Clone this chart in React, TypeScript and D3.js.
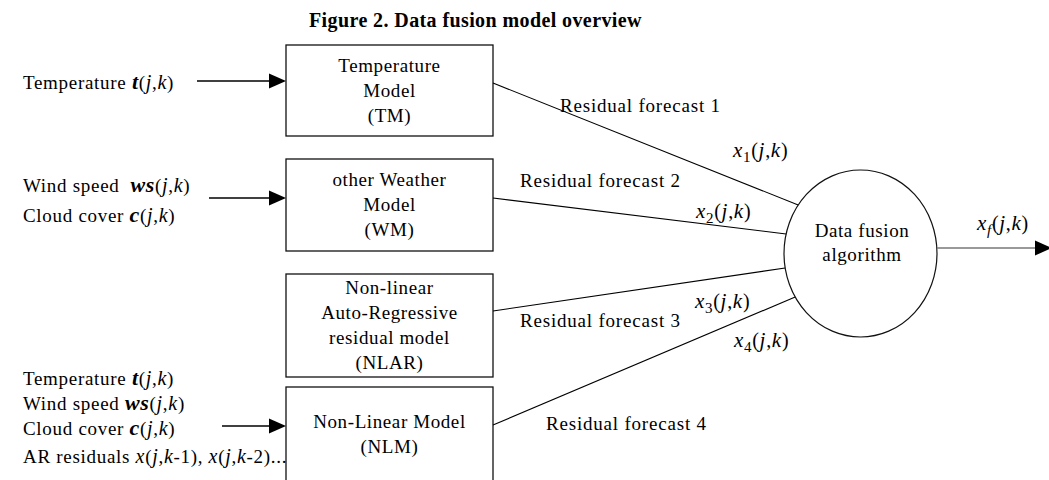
import React from "react";
import * as d3 from "d3";

// ---------- content ----------
const title = "Figure 2. Data fusion model overview";
const modelLines: string[][] = [
  ["Temperature", "Model", "(TM)"],
  ["other Weather", "Model", "(WM)"],
  ["Non-linear", "Auto-Regressive", "residual model", "(NLAR)"],
  ["Non-Linear Model", "(NLM)"],
];
const inputGroups: string[][] = [
  ["Temperature {b:t}({i:j},{i:k})"],
  ["Wind speed  {b:ws}({i:j},{i:k})", "Cloud cover {b:c}({i:j},{i:k})"],
  [
    "Temperature {b:t}({i:j},{i:k})",
    "Wind speed {b:ws}({i:j},{i:k})",
    "Cloud cover {b:c}({i:j},{i:k})",
    "AR residuals {i:x}({i:j},{i:k}-1), {i:x}({i:j},{i:k}-2)...",
  ],
];
const forecastLabels = ["Residual forecast 1", "Residual forecast 2", "Residual forecast 3", "Residual forecast 4"];
const forecastVars = ["{i:x}{s:1}({i:j},{i:k})", "{i:x}{s:2}({i:j},{i:k})", "{i:x}{s:3}({i:j},{i:k})", "{i:x}{s:4}({i:j},{i:k})"];
const fusionLines = ["Data fusion", "algorithm"];
const outputVar = "{i:x}{si:f}({i:j},{i:k})";

// ---------- layout ----------
const W = 1049;
const H = 480;
const FONT = "'Liberation Serif','Times New Roman',serif";
const boxX = [286, 493];
const boxTops = [45, 159, 274, 387];
const boxBottoms = [136, 251, 377, 481];
const lineStartY = [83, 198, 311, 425];
const lineEndY = [205, 234, 268, 297];
const ell = { cx: 860.5, cy: 253.5, rx: 76.5, ry: 83.5 };
const inputX = 23;
const inputBaselines = [[89], [192, 222], [385, 410, 435, 463]];
const inputArrowY = [81, 198, 426];
const inputArrowX0 = [197, 209, 222];
const forecastPos: [number, number][] = [[560, 112], [520, 187], [520, 327], [546, 430]];
const varPos: [number, number][] = [[733, 157], [696, 218], [695, 308], [734, 347]];
const outPos: [number, number] = [977, 230];
const outY = 248;

type Seg = { t: string; k: "n" | "b" | "i" | "s" | "si" };
function parse(s: string): Seg[] {
  const out: Seg[] = [];
  const re = /\{(b|i|si|s):([^}]*)\}/g;
  let last = 0;
  let m: RegExpExecArray | null;
  while ((m = re.exec(s))) {
    if (m.index > last) out.push({ t: s.slice(last, m.index), k: "n" });
    out.push({ t: m[2], k: m[1] as Seg["k"] });
    last = re.lastIndex;
  }
  if (last < s.length) out.push({ t: s.slice(last), k: "n" });
  return out;
}

function Rich({ s, x, y, size = 19 }: { s: string; x: number; y: number; size?: number }) {
  const segs = parse(s);
  let shifted = false;
  return (
    <text x={x} y={y} fontFamily={FONT} fontSize={size} letterSpacing={0.7} fill="#000" style={{ whiteSpace: "pre" }}>
      {segs.map((g, i) => {
        const isSub = g.k === "s" || g.k === "si";
        let dy: number | undefined;
        if (isSub && !shifted) { dy = 5; shifted = true; }
        else if (!isSub && shifted) { dy = -5; shifted = false; }
        const props: any = { key: i, dy };
        if (g.k === "b") { props.fontWeight = "bold"; props.fontStyle = "italic"; props.fontSize = size + 3; }
        if (g.k === "i") { props.fontStyle = "italic"; props.fontSize = size + 1; }
        if (g.k === "s") { props.fontSize = size - 5; }
        if (g.k === "si") { props.fontSize = size - 5; props.fontStyle = "italic"; }
        return <tspan {...props}>{g.t}</tspan>;
      })}
    </text>
  );
}

const line = d3.line<[number, number]>();

function Arrow({ x0, x1, y, color = "#000" }: { x0: number; x1: number; y: number; color?: string }) {
  const headL = 17, headH = 7.5;
  const head: [number, number][] = [[x1 - headL, y - headH], [x1, y], [x1 - headL, y + headH]];
  return (
    <g>
      <path d={line([[x0, y], [x1 - headL, y]]) || ""} stroke={color} strokeWidth={1.4} fill="none" />
      <path d={(line(head) || "") + "Z"} fill="#000" />
    </g>
  );
}

export default function App() {
  const cx = (boxX[0] + boxX[1]) / 2;
  const ellX = (y: number) => ell.cx - ell.rx * Math.sqrt(1 - ((y - ell.cy) / ell.ry) ** 2);
  return (
    <svg width={W} height={H} style={{ position: "absolute", left: 0, top: 0, background: "#fff" }}>
      <rect width={W} height={H} fill="#fff" />
      <text x={309} y={27} fontFamily={FONT} fontSize={20} fontWeight="bold" letterSpacing={0.4}>{title}</text>

      {modelLines.map((ls, i) => {
        const mid = (boxTops[i] + boxBottoms[i]) / 2 + 6;
        return (
          <g key={i}>
            <rect x={boxX[0]} y={boxTops[i]} width={boxX[1] - boxX[0]} height={boxBottoms[i] - boxTops[i]}
              fill="none" stroke="#111" strokeWidth={1.3} />
            {ls.map((t, j) => (
              <text key={j} x={cx} y={mid + (j - (ls.length - 1) / 2) * 25} textAnchor="middle"
                fontFamily={FONT} fontSize={19} letterSpacing={0.6}>{t}</text>
            ))}
            <path d={line([[boxX[1], lineStartY[i]], [ellX(lineEndY[i]), lineEndY[i]]]) || ""} stroke="#000" strokeWidth={1.1} fill="none" />
            <text x={forecastPos[i][0]} y={forecastPos[i][1]} fontFamily={FONT} fontSize={19} letterSpacing={0.8}>{forecastLabels[i]}</text>
            <Rich s={forecastVars[i]} x={varPos[i][0]} y={varPos[i][1]} size={20} />
          </g>
        );
      })}

      {inputGroups.map((g, i) => (
        <g key={i}>
          {g.map((s, j) => <Rich key={j} s={s} x={inputX} y={inputBaselines[i][j]} />)}
          <Arrow x0={inputArrowX0[i]} x1={boxX[0]} y={inputArrowY[i]} />
        </g>
      ))}

      <ellipse cx={ell.cx} cy={ell.cy} rx={ell.rx} ry={ell.ry} fill="none" stroke="#111" strokeWidth={1.2} />
      {fusionLines.map((t, j) => (
        <text key={j} x={862} y={237 + j * 24} textAnchor="middle" fontFamily={FONT} fontSize={19} letterSpacing={0.6}>{t}</text>
      ))}
      <Arrow x0={ell.cx + ell.rx} x1={1052} y={outY} color="#777" />
      <Rich s={outputVar} x={outPos[0]} y={outPos[1]} size={20} />
    </svg>
  );
}
